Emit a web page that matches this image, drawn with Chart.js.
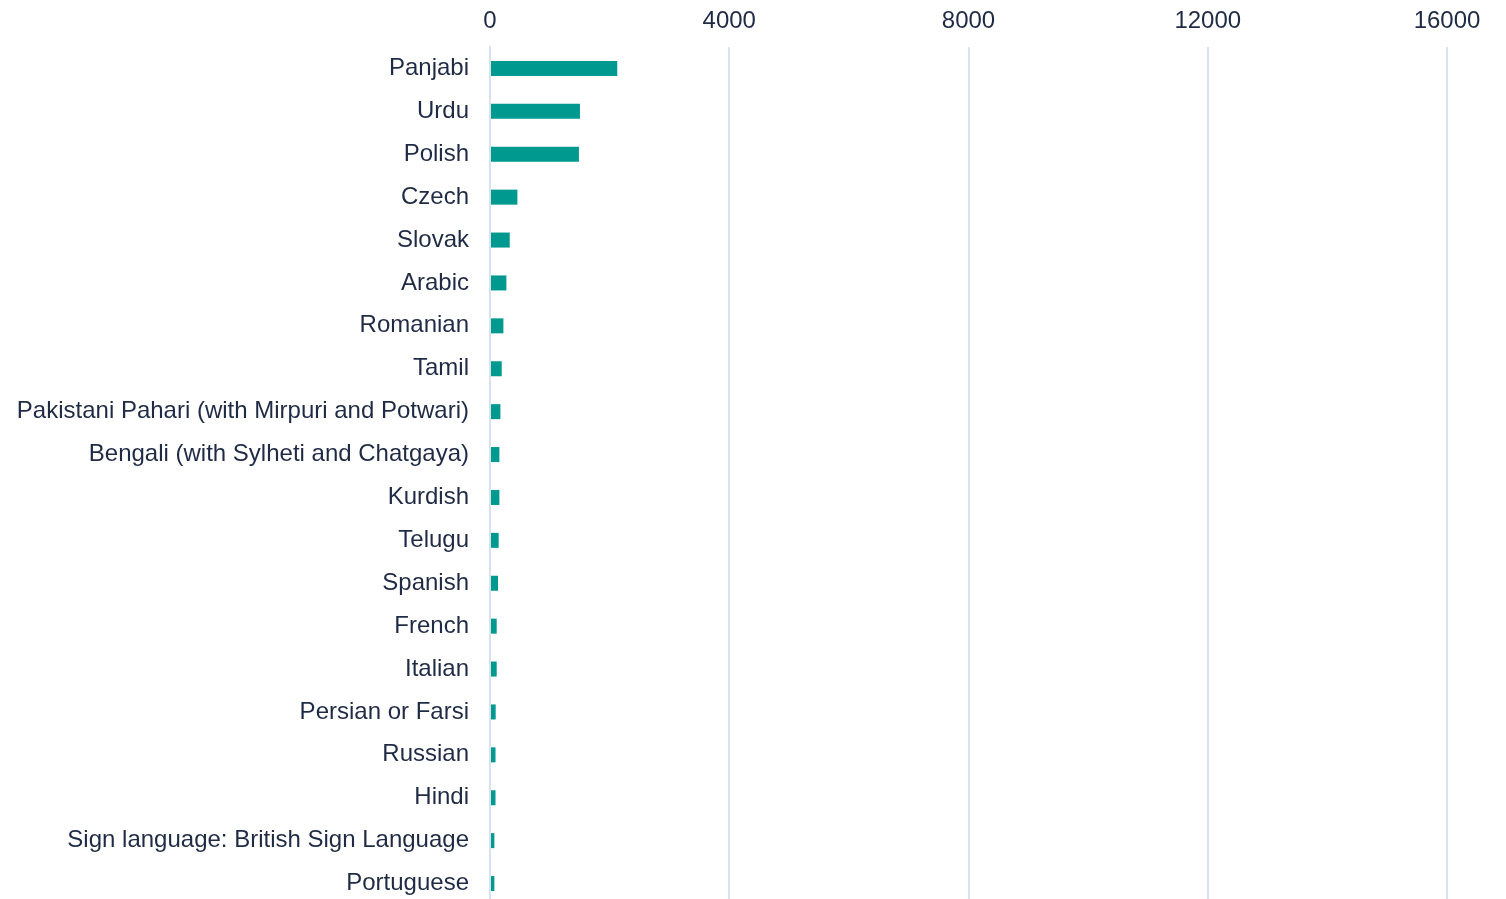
<!DOCTYPE html>
<html lang="en">
<head>
  <meta charset="UTF-8" />
  <title>Main languages</title>
  <script src="https://cdn.jsdelivr.net/npm/chart.js"></script>
  <style>
    html, body {
      margin: 0;
      padding: 0;
      background: #ffffff;
      overflow: hidden;
    }
    canvas {
      display: block;
    }
  </style>
</head>
<body>
  <canvas id="barChart" width="1506" height="905"></canvas>

  <script>
    const languages = [
      'Panjabi', 'Urdu', 'Polish', 'Czech', 'Slovak', 'Arabic', 'Romanian', 'Tamil',
      'Pakistani Pahari (with Mirpuri and Potwari)', 'Bengali (with Sylheti and Chatgaya)',
      'Kurdish', 'Telugu', 'Spanish', 'French', 'Italian', 'Persian or Farsi',
      'Russian', 'Hindi', 'Sign language: British Sign Language', 'Portuguese'
    ];
    const speakers = [2128, 1504, 1487, 458, 330, 274, 224, 196, 174, 157,
                      157, 145, 134, 112, 112, 95, 92, 92, 73, 73];
    const xTicks = [0, 4000, 8000, 12000, 16000];

    const textColor = '#1f2a44';
    const gridColor = '#d9e0ee';
    const barColor = '#00998f';
    const labelFont = { family: '"Liberation Sans", Arial, sans-serif', size: 24 };

    window.onload = () => {
      const ctx = document.getElementById('barChart').getContext('2d');
      new Chart(ctx, {
        type: 'bar',
        data: {
          labels: languages,
          datasets: [{
            label: 'Speakers',
            data: speakers,
            backgroundColor: barColor,
            borderWidth: 0,
            categoryPercentage: 1,
            barPercentage: 0.35
          }]
        },
        options: {
          indexAxis: 'y',
          responsive: false,
          animation: false,
          layout: { padding: { left: 17, right: 59, top: 0, bottom: 0 } },
          plugins: {
            legend: { display: false },
            tooltip: { enabled: false }
          },
          scales: {
            x: {
              position: 'top',
              min: 0,
              max: 16000,
              afterBuildTicks: (axis) => { axis.ticks = xTicks.map(v => ({ value: v })); },
              afterFit: (axis) => {
                axis.height = 47;
                axis.paddingLeft = 0;
                axis.paddingRight = 0;
              },
              grid: { color: gridColor, lineWidth: 2, drawTicks: false },
              border: { display: false },
              ticks: {
                color: textColor,
                padding: 11,
                font: labelFont,
                callback: (value) => String(value)
              }
            },
            y: {
              afterFit: (axis) => {
                axis.width = 473;
                axis.paddingTop = 0;
                axis.paddingBottom = 0;
              },
              grid: { display: false, drawTicks: false },
              border: { display: true, color: gridColor, width: 2 },
              ticks: {
                color: textColor,
                padding: 21,
                autoSkip: false,
                font: labelFont
              }
            }
          }
        }
      });
    };
  </script>
</body>
</html>
